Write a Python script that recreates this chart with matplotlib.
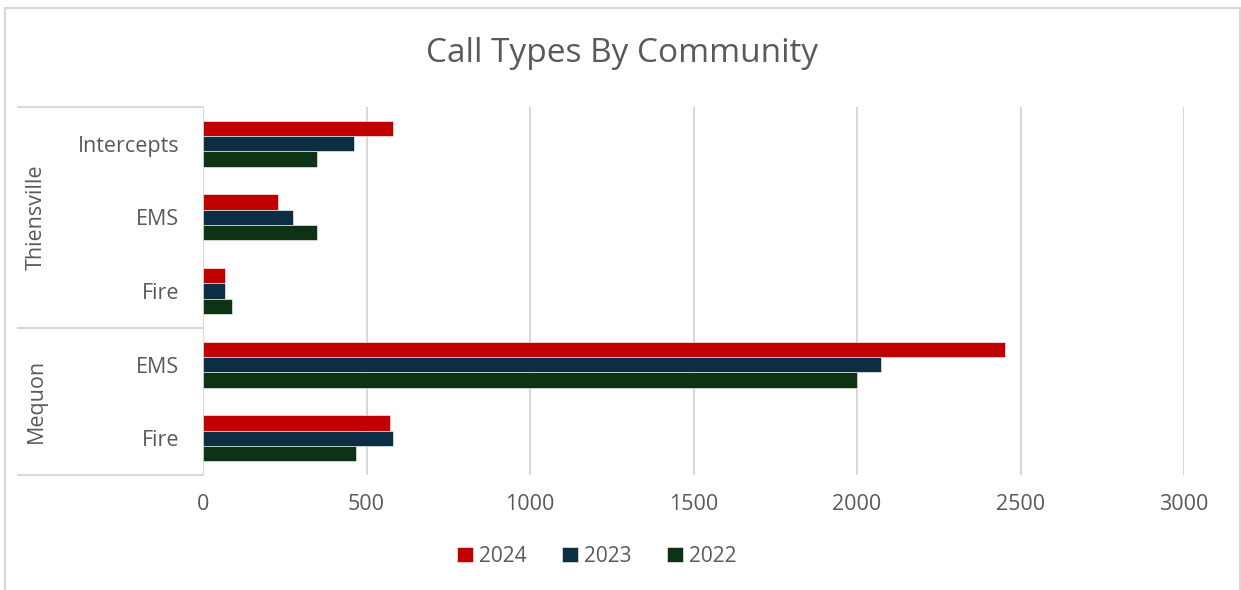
import numpy as np
import matplotlib.pyplot as plt
from matplotlib.lines import Line2D
from matplotlib.patches import Rectangle

# data, top to bottom as drawn
categories = ['Intercepts', 'EMS', 'Fire', 'EMS', 'Fire']
groups = ['Thiensville', 'Mequon']
group_sizes = [3, 2]
years = ['2024', '2023', '2022']
vals_2024 = [582, 229, 66, 2452, 573]
vals_2023 = [462, 274, 66, 2072, 580]
vals_2022 = [350, 350, 88, 2001, 467]
colors = ['#C00000', '#0D2E42', '#0E3314']

txt = '#595959'
line_c = '#D9D9D9'
plt.rcParams['font.family'] = ['Open Sans', 'DejaVu Sans']

W, H = 1241, 590
fig = plt.figure(figsize=(W / 100, H / 100), dpi=100)

# outer chart border
fig.patches.append(Rectangle((5 / W, -0.01), (1240 - 5) / W, (H - 8) / H + 0.01,
                             transform=fig.transFigure, fill=False,
                             edgecolor=line_c, lw=1.5))

x0, x1, y_top, y_bot = 203, 1184, 107, 475
ax = fig.add_axes([x0 / W, 1 - y_bot / H, (x1 - x0) / W, (y_bot - y_top) / H])

n = len(categories)
y = np.arange(n)
bh = 0.208
series = [vals_2024, vals_2023, vals_2022]
for i, (yr, v) in enumerate(zip(years, series)):
    ax.barh(y + (i - 1) * bh, v, height=bh, color=colors[i], label=yr,
            edgecolor='white', linewidth=0.4, zorder=3)

ax.set_xlim(0, 3000)
ax.set_ylim(n - 0.5, -0.5)
ax.set_xticks(np.arange(0, 3001, 500))
ax.grid(axis='x', color=line_c, lw=1.5, zorder=0)
for s in ax.spines.values():
    s.set_visible(False)
ax.tick_params(axis='both', length=0, labelsize=15.5, labelcolor=txt)
ax.tick_params(axis='x', pad=14)
ax.set_yticks(y)
ax.set_yticklabels(categories)
ax.tick_params(axis='y', pad=17)

# category axis line and group boxes
ax.axvline(0, color=line_c, lw=1.5, zorder=1)
tr = ax.get_yaxis_transform()
left = (18 - x0) / (x1 - x0)
bounds = [-0.5]
for g in group_sizes:
    bounds.append(bounds[-1] + g)
for b in bounds:
    ax.add_line(Line2D([left, 0], [b, b], transform=tr, color=line_c,
                       lw=1.5, clip_on=False))
for gi, g in enumerate(groups):
    mid = (bounds[gi] + bounds[gi + 1]) / 2
    ax.text((36 - x0) / (x1 - x0), mid, g, transform=tr, rotation=90,
            ha='center', va='center', fontsize=15.5, color=txt)

fig.text(622 / W, 1 - 53 / H, 'Call Types By Community', ha='center',
         va='center', fontsize=24, color=txt)

leg = fig.legend(loc='center', bbox_to_anchor=(597 / W, 1 - 556 / H), ncol=3,
                 frameon=False, fontsize=15, handlelength=0.75, handleheight=0.75,
                 handletextpad=0.3, columnspacing=1.7)
for t in leg.get_texts():
    t.set_color(txt)

fig.savefig('out.png', dpi=100)
